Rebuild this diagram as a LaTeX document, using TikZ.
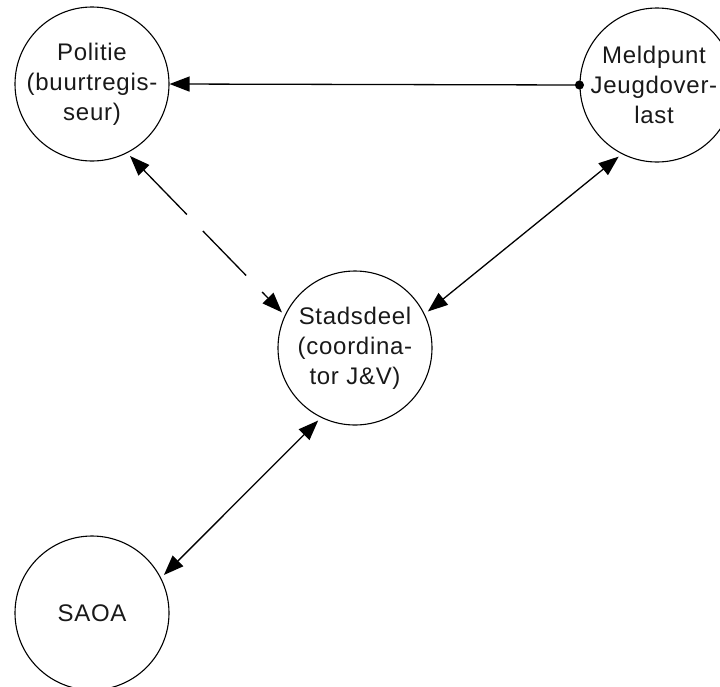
\documentclass[tikz,border=0pt]{standalone}
\usepackage{fontspec}
\setmainfont{Liberation Sans}[LetterSpace=3]
\usetikzlibrary{arrows.meta}
\begin{document}
\begin{tikzpicture}[x=1pt, y=-1pt, >={Triangle[length=20pt,width=15pt]}]
        \tikzstyle{actor}=[draw,shape=circle,minimum size=154pt,line width=1.1pt]
        \tikzstyle{txt}=[align=center,font=\fontsize{24}{30}\selectfont,text=black!90]
        \tikzstyle{link}=[line width=1.3pt,shorten <=4pt,shorten >=4pt]

        \clip (0,0) rectangle (720,686);

        \node[actor,label={[txt]center:{Politie\\(buurtregis-\\seur)}}](politie) at (92,84){};
        \node[actor,label={[txt,xshift=-3pt]center:{Meldpunt\\Jeugdover-\\last}}](meldpunt) at (657,85){};
        \node[actor,label={[txt]center:{Stadsdeel\\(coordina-\\tor J\&V)}}](stadsdeel) at (355,348){};
        \node[actor,label={[txt]center:{SAOA}}](saoa) at (92,613){};

        \draw[line width=1.3pt,{Circle[length=9pt]}->,shorten <=-4.5pt] (meldpunt.west) -- (politie.east);
        \draw[link,<->,dash pattern=on 62pt off 23pt] (politie.-63) -- (stadsdeel.155);
        \draw[link,<->] (meldpunt.-117) -- (stadsdeel.26);
        %\draw[link,<->] (stadsdeel) -- (saoa);
        \draw[link,<->] (stadsdeel.-116) -- (saoa.27);

        \end{tikzpicture}
\end{document}
